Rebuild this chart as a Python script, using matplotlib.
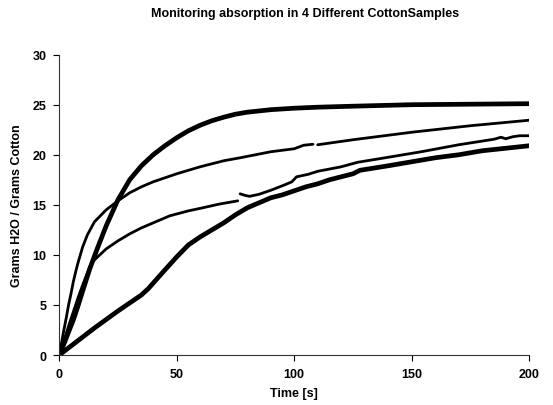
import numpy as np
import matplotlib
matplotlib.use("Agg")
import matplotlib.pyplot as plt

plt.rcParams['font.family'] = ['Liberation Sans', 'DejaVu Sans']
plt.rcParams['font.weight'] = 'bold'

nan = np.nan

# sample A (top, levels off near 25)
t_a = [0, 2, 4, 6, 8, 10, 13, 16, 20, 25, 30, 35, 40, 45, 50, 55, 60, 65, 70,
       75, 80, 90, 100, 110, 125, 150, 175, 200]
v_a = [0, 1.1, 2.3, 3.5, 4.9, 6.4, 8.6, 10.5, 12.9, 15.5, 17.5, 18.9, 20.0,
       20.9, 21.7, 22.4, 22.95, 23.4, 23.75, 24.05, 24.25, 24.5, 24.65, 24.75,
       24.85, 25.0, 25.05, 25.1]

# sample B (fast start, ends near 23.5)
t_b = [0, 1, 2, 3, 4, 5, 6, 7, 8, 9, 10, 12, 15, 20, 25, 30, 35, 40, 50, 60,
       70, 77, 90, 100, 104, 108, 109, 110, 125, 150, 175, 200]
v_b = [0, 1.2, 2.5, 3.7, 5.0, 6.1, 7.3, 8.3, 9.2, 10.0, 10.8, 12.0, 13.3,
       14.5, 15.4, 16.2, 16.8, 17.3, 18.1, 18.8, 19.4, 19.7, 20.3, 20.6,
       20.95, 21.05, nan, 21.0, 21.5, 22.25, 22.9, 23.45]

# sample C (gap near 76 s, ends near 22)
t_c = [0, 2, 4, 6, 8, 10, 13, 15, 20, 25, 30, 35, 40, 47, 55, 61, 68, 76,
       76.5, 77, 79, 81, 85, 90, 96, 99, 101, 106, 110, 120, 127, 140, 154,
       170, 185, 188, 190, 193, 196, 200]
v_c = [0, 1.4, 2.9, 4.3, 5.7, 7.0, 8.8, 9.5, 10.6, 11.4, 12.1, 12.7, 13.2,
       13.9, 14.4, 14.7, 15.07, 15.4, nan, 16.1, 15.95, 15.85, 16.05, 16.45,
       17.0, 17.3, 17.8, 18.05, 18.35, 18.8, 19.25, 19.75, 20.3, 21.0, 21.55,
       21.75, 21.6, 21.8, 21.9, 21.9]

# sample D (slow, almost linear start)
t_d = [0, 5, 10, 15, 20, 25, 30, 35, 38, 41, 45, 50, 55, 60, 65, 70, 75, 80,
       85, 90, 95, 100, 105, 110, 115, 120, 125, 128, 132, 140, 150, 160, 170,
       180, 190, 200]
v_d = [0, 0.9, 1.8, 2.7, 3.55, 4.4, 5.2, 6.0, 6.65, 7.45, 8.5, 9.8, 11.0, 11.8,
       12.5, 13.2, 14.0, 14.7, 15.2, 15.7, 16.0, 16.4, 16.8, 17.1, 17.5, 17.8,
       18.1, 18.45, 18.6, 18.9, 19.3, 19.7, 20.0, 20.4, 20.65, 20.9]

x_ticks = [0, 50, 100, 150, 200]
y_ticks = [0, 5, 10, 15, 20, 25, 30]

fig = plt.figure(figsize=(5.53, 4.06), dpi=100)
ax = fig.add_axes([0.107, 0.123, 0.85, 0.740])

ax.plot(t_a, v_a, color='black', lw=3.4, solid_capstyle='round')
ax.plot(t_b, v_b, color='black', lw=2.0, solid_capstyle='round')
ax.plot(t_c, v_c, color='black', lw=2.0, solid_capstyle='round')
ax.plot(t_d, v_d, color='black', lw=3.4, solid_capstyle='round')

ax.set_xlim(0, 200)
ax.set_ylim(0, 30)
ax.set_xticks(x_ticks)
ax.set_yticks(y_ticks)
ax.tick_params(direction='out', length=4, width=0.8, labelsize=9, pad=5)
for s in ['top', 'right']:
    ax.spines[s].set_visible(False)
for s in ['left', 'bottom']:
    ax.spines[s].set_linewidth(0.8)
    ax.spines[s].set_color('#333333')

ax.set_xlabel('Time [s]', fontsize=9, fontweight='bold', labelpad=5)
ax.set_ylabel('Grams H2O / Grams Cotton', fontsize=9, fontweight='bold', labelpad=7)
fig.text(0.551, 0.965, 'Monitoring absorption in 4 Different CottonSamples',
         ha='center', va='center', fontsize=9, fontweight='bold')

fig.savefig('out.png', dpi=100)
